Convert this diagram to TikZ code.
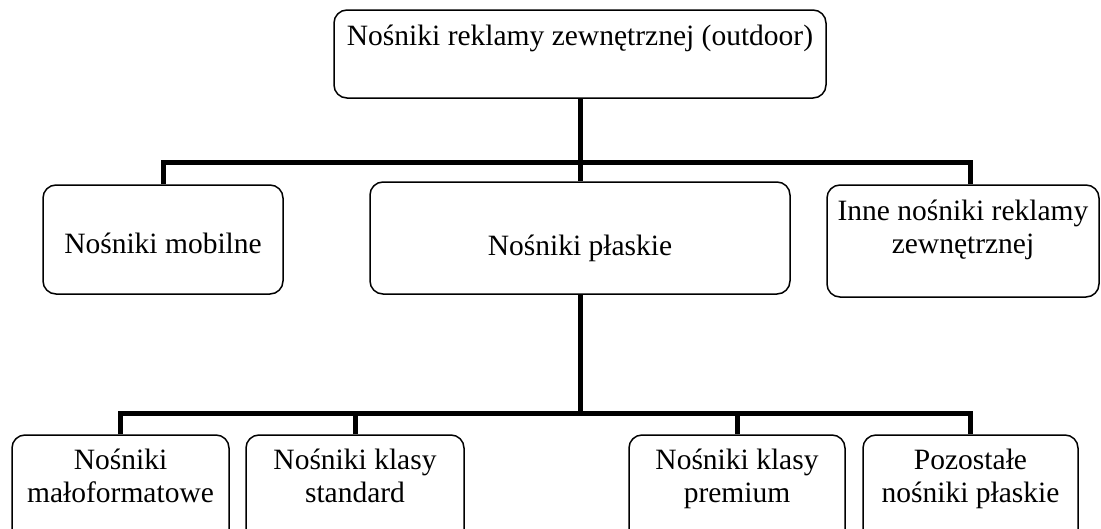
\documentclass[tikz,border=0pt]{standalone}
\usepackage{fontspec}
\setmainfont{Liberation Serif}
\tikzset{
  box/.style={draw,rounded corners=13pt,line width=1.5pt,align=center,inner sep=0pt,
    font=\fontsize{29.5}{33}\selectfont},
  link/.style={line width=5pt}
}
\begin{document}
\begin{tikzpicture}[x=1pt,y=-1pt]
\clip (0,0) rectangle (1101,528);
% top level
\node [box,minimum width=492,minimum height=88] (top) at (580,54)
  {Nośniki reklamy zewnętrznej (outdoor)\\[-5pt] \strut};
% second level
\node [box,minimum width=240,minimum height=109,text height=40pt,text depth=13pt] (mob) at (163,239.5) {Nośniki mobilne};
\node [box,minimum width=420,minimum height=112,text height=46pt,text depth=12pt] (plask) at (580,238) {Nośniki płaskie};
\node [box,minimum width=272,minimum height=112] (inne) at (963,241)
  {Inne nośniki reklamy\\ zewnętrznej\\[-14pt] \strut};
% third level
\node [box,minimum width=217,minimum height=124] (malo) at (120.5,497) {Nośniki\\ małoformatowe\\ \strut};
\node [box,minimum width=218,minimum height=124] (stand) at (355,497) {Nośniki klasy\\ standard\\ \strut};
\node [box,minimum width=216,minimum height=124] (prem) at (737,497) {Nośniki klasy\\ premium\\ \strut};
\node [box,minimum width=215,minimum height=124] (pozost) at (970.5,497) {Pozostałe\\ nośniki płaskie\\ \strut};
% connectors
\coordinate (bus1) at (0,162);
\coordinate (bus2) at (0,413);
\draw [link] (top.south) -- (top.south |- plask.north);
\draw [link] (mob.north) |- ([xshift=7pt]inne.north |- bus1) -- ([xshift=7pt]inne.north);
\draw [link] (plask.south) -- (plask.south |- bus2);
\draw [link] (malo.north) |- (pozost.north |- bus2) -- (pozost.north);
\draw [link] (stand.north) -- (stand.north |- bus2);
\draw [link] (prem.north) -- (prem.north |- bus2);
\end{tikzpicture}
\end{document}
